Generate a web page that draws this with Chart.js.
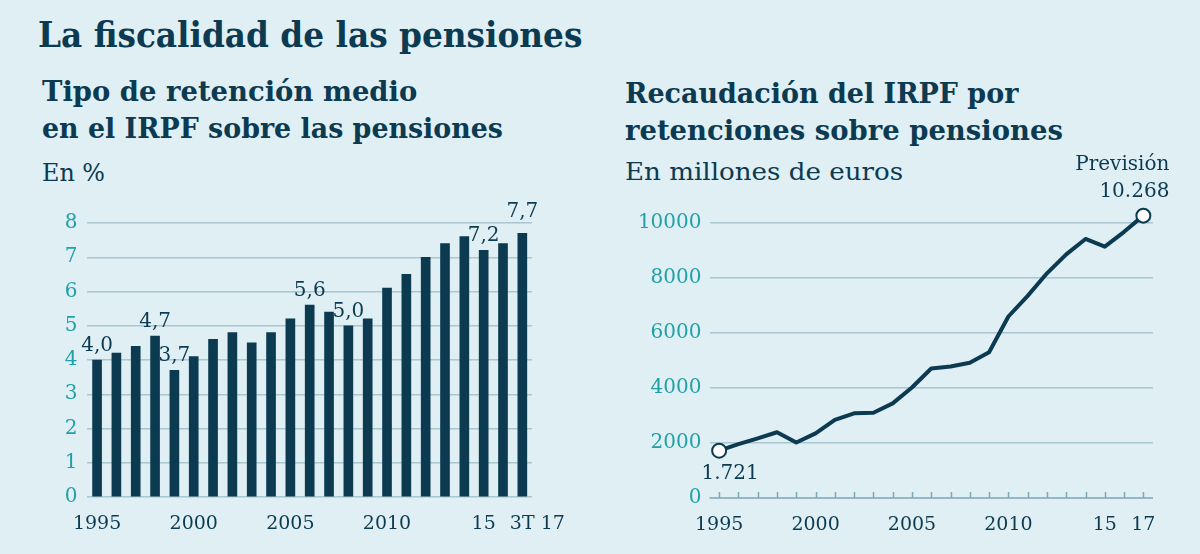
<!DOCTYPE html>
<html>
<head>
<meta charset="utf-8">
<script src="https://cdn.jsdelivr.net/npm/chart.js@4/dist/chart.umd.min.js"></script>
<style>
  html, body { margin: 0; padding: 0; }
  body { width: 1200px; height: 554px; background: #dfeff4; position: relative; overflow: hidden; font-family: "DejaVu Serif", serif; color: #0c3a51; }
  .t { position: absolute; white-space: nowrap; line-height: 1; transform-origin: 0 0; }
  .b { font-weight: bold; }
  canvas { position: absolute; top: 140px; }
</style>
</head>
<body>
<div class="t b" style="left:38px; top:16px; font-size:36px;" data-w="544"><span>La fiscalidad de las pensiones</span></div>

<div class="t b" style="left:42px; top:78px; font-size:27.5px;" data-w="375"><span>Tipo de retención medio</span></div>
<div class="t b" style="left:42px; top:115px; font-size:27.5px;" data-w="461"><span>en el IRPF sobre las pensiones</span></div>
<div class="t" style="left:42px; top:160px; font-size:25px;" data-w="63"><span>En %</span></div>

<div class="t b" style="left:625px; top:80px; font-size:27.5px;" data-w="393"><span>Recaudación del IRPF por</span></div>
<div class="t b" style="left:625px; top:117px; font-size:27.5px;" data-w="438"><span>retenciones sobre pensiones</span></div>
<div class="t" style="left:625px; top:159px; font-size:25px;" data-w="278"><span>En millones de euros</span></div>

<canvas id="barChart" width="600" height="414" style="left:0px;"></canvas>
<canvas id="lineChart" width="600" height="414" style="left:600px;"></canvas>

<script>
// datos
const years = ['1995','1996','1997','1998','1999','2000','2001','2002','2003','2004','2005','2006',
               '2007','2008','2009','2010','2011','2012','2013','2014','2015','2016','2017'];

// tipo de retención medio, en %
const retencion = [4.0, 4.2, 4.4, 4.7, 3.7, 4.1, 4.6, 4.8, 4.5, 4.8, 5.2, 5.6,
                   5.4, 5.0, 5.2, 6.1, 6.5, 7.0, 7.4, 7.6, 7.2, 7.4, 7.7];
const retencionTicks = ['1995','','','','','2000','','','','','2005','',
                        '','','','2010','','','','','15','','3T 17'];
const retencionLabeled = [0, 3, 4, 11, 13, 20, 22];

// recaudación, en millones de euros (2017 = previsión)
const recaudacion = [1721, 1960, 2170, 2390, 2020, 2350, 2840, 3080, 3100, 3440, 4020, 4710,
                     4780, 4920, 5300, 6600, 7350, 8170, 8860, 9420, 9140, 9680, 10268];
const recaudacionTicks = ['1995','','','','','2000','','','','','2005','',
                          '','','','2010','','','','','15','','17'];

const navy = '#0c3a51';
const teal = '#21a1a7';
const gridColor = '#a9c6d1';
const axisColor = '#7fa6b6';
const fontFamily = '"DejaVu Serif", serif';

const esNum = (v) => String(v).replace(/\B(?=(\d{3})+(?!\d))/g, '.');
const esDec = (v) => v.toFixed(1).replace('.', ',');

// escala los titulos al ancho del original (offsetWidth no incluye el transform)
function fitTitles() {
  document.querySelectorAll('.t').forEach(el => {
    const w = el.offsetWidth;
    const target = parseFloat(el.dataset.w);
    if (w > 0) el.style.transform = 'scaleX(' + (target / w) + ')';
  });
}
fitTitles();

const barLabels = {
  id: 'barLabels',
  afterDatasetsDraw(chart) {
    const ctx = chart.ctx;
    const meta = chart.getDatasetMeta(0);
    ctx.save();
    ctx.font = '20px ' + fontFamily;
    ctx.fillStyle = navy;
    ctx.textAlign = 'center';
    ctx.textBaseline = 'alphabetic';
    retencionLabeled.forEach(i => {
      const bar = meta.data[i];
      const gap = i === retencion.length - 1 ? 16 : 9;
      ctx.fillText(esDec(retencion[i]), bar.x, bar.y - gap);
    });
    // ultimo rotulo del eje, desplazado como en el original
    const last = retencion.length - 1;
    const xs = chart.scales.x;
    ctx.font = '19px ' + fontFamily;
    ctx.textBaseline = 'middle';
    ctx.fillText(retencionTicks[last], xs.getPixelForValue(last) + 15, chart.chartArea.bottom + 27);
    ctx.restore();
  }
};

new Chart(document.getElementById('barChart'), {
  type: 'bar',
  data: {
    labels: years,
    datasets: [{ data: retencion, backgroundColor: navy, barThickness: 9 }]
  },
  options: {
    responsive: false,
    animation: false,
    events: [],
    layout: { padding: { top: 83, right: 68, left: 0, bottom: 0 } },
    plugins: { legend: { display: false }, tooltip: { enabled: false } },
    scales: {
      x: {
        grid: { display: false, drawTicks: false },
        border: { display: false },
        ticks: {
          autoSkip: false, maxRotation: 0, padding: 16,
          color: navy, font: { family: fontFamily, size: 19 },
          callback: (v, i) => i === retencion.length - 1 ? '' : retencionTicks[i]
        },
        afterFit: (s) => { s.height = 57; }
      },
      y: {
        min: 0, max: 8,
        grid: { color: gridColor, lineWidth: 1.5, drawTicks: false },
        border: { display: false },
        ticks: { stepSize: 1, padding: 10, color: teal, font: { family: fontFamily, size: 20 } },
        afterFit: (s) => { s.width = 87.4; }
      }
    }
  },
  plugins: [barLabels]
});

const lineExtras = {
  id: 'lineExtras',
  beforeDatasetsDraw(chart) {
    const ctx = chart.ctx;
    const xs = chart.scales.x, ys = chart.scales.y;
    const y0 = ys.getPixelForValue(0);
    ctx.save();
    ctx.strokeStyle = axisColor;
    ctx.lineWidth = 1.5;
    ctx.beginPath();
    ctx.moveTo(chart.chartArea.left, y0);
    ctx.lineTo(chart.chartArea.right, y0);
    years.forEach((y, i) => {
      const x = Math.round(xs.getPixelForValue(i)) + 0.5;
      ctx.moveTo(x, y0);
      ctx.lineTo(x, y0 - 6);
    });
    ctx.stroke();
    ctx.restore();
  },
  afterDatasetsDraw(chart) {
    const ctx = chart.ctx;
    const pts = chart.getDatasetMeta(0).data;
    const first = pts[0], last = pts[pts.length - 1];
    ctx.save();
    ctx.font = '20px ' + fontFamily;
    ctx.fillStyle = navy;
    ctx.textBaseline = 'middle';
    ctx.textAlign = 'center';
    ctx.fillText(esNum(recaudacion[0]), first.x + 11, first.y + 23);
    ctx.textAlign = 'right';
    ctx.fillText('Previsión', last.x + 26, last.y - 51);
    ctx.fillText(esNum(recaudacion[recaudacion.length - 1]), last.x + 26, last.y - 24);
    ctx.restore();
  }
};

new Chart(document.getElementById('lineChart'), {
  type: 'line',
  data: {
    labels: years,
    datasets: [{
      data: recaudacion,
      borderColor: navy,
      borderWidth: 4,
      borderJoinStyle: 'round',
      tension: 0,
      clip: false,
      pointRadius: (c) => (c.dataIndex === 0 || c.dataIndex === recaudacion.length - 1) ? 7 : 0,
      pointBackgroundColor: '#ffffff',
      pointBorderColor: navy,
      pointBorderWidth: 2
    }]
  },
  options: {
    responsive: false,
    animation: false,
    events: [],
    layout: { padding: { top: 83, right: 47, left: 0, bottom: 0 } },
    plugins: { legend: { display: false }, tooltip: { enabled: false } },
    scales: {
      x: {
        offset: true,
        grid: { display: false, drawTicks: false },
        border: { display: false },
        ticks: {
          autoSkip: false, maxRotation: 0, padding: 16,
          color: navy, font: { family: fontFamily, size: 19 },
          callback: (v, i) => recaudacionTicks[i]
        },
        afterFit: (s) => { s.height = 56; }
      },
      y: {
        min: 0, max: 10000,
        grid: { color: (c) => c.tick.value === 0 ? 'rgba(0,0,0,0)' : gridColor, lineWidth: 1.5, drawTicks: false },
        border: { display: false },
        ticks: { stepSize: 2000, padding: 8, color: teal, font: { family: fontFamily, size: 20 },
                 callback: (v) => String(v) },
        afterFit: (s) => { s.width = 109.5; }
      }
    }
  },
  plugins: [lineExtras]
});

if (document.fonts && document.fonts.ready) {
  document.fonts.ready.then(() => fitTitles());
}
</script>
</body>
</html>
